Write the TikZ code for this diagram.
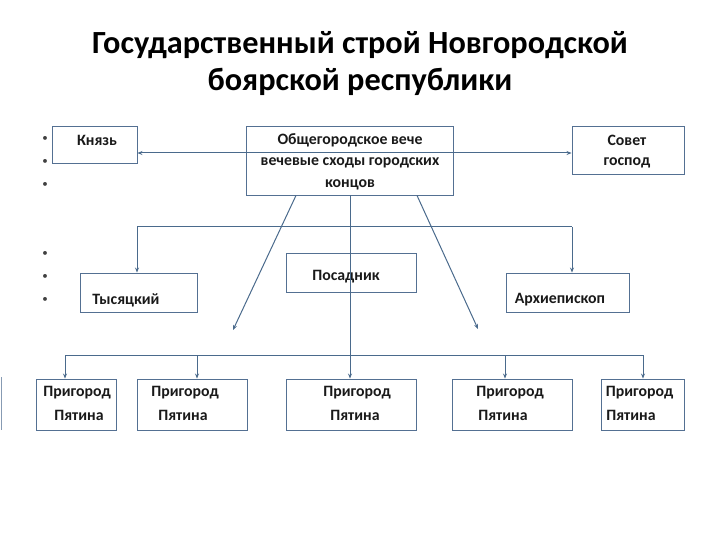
\documentclass[tikz,border=0pt]{standalone}
\usepackage{fontspec}
\setmainfont{Carlito}
\usetikzlibrary{arrows.meta}
\definecolor{ln}{RGB}{74,106,140}
\definecolor{bx}{RGB}{84,112,146}
\tikzset{
  box/.style={draw=bx, line width=0.9pt, rectangle, inner sep=0pt},
  txt/.style={inner sep=0pt, font=\fontsize{15.8}{18}\selectfont\bfseries, text=black!90},
  bul/.style={inner sep=0pt, font=\fontsize{11}{13}\selectfont, text=black!75},
  conn/.style={draw=ln, line width=1pt},
  arr/.style={conn, -{Stealth[length=5pt,width=4pt]}},
  darr/.style={conn, {Stealth[length=5pt,width=4pt]}-{Stealth[length=5pt,width=4pt]}}
}
\begin{document}
\begin{tikzpicture}[x=1pt,y=-1pt]
\useasboundingbox (0,0) rectangle (720,540);
% title
\node[inner sep=0pt, font=\fontsize{32.3}{38}\selectfont\bfseries] (t1) at (360,45) {Государственный строй Новгородской};
\node[inner sep=0pt, font=\fontsize{32.3}{38}\selectfont\bfseries] (t2) at (360,82) {боярской республики};
% bullets
\foreach \yy [count=\i] in {139,162,185,254,277,300}
  \node[bul] (b\i) at (45,\yy) {•};
% boxes
\node[box, minimum width=85pt, minimum height=37pt] (knyaz) at (94.5,144.5) {};
\node[box, minimum width=207pt, minimum height=69pt] (veche) at (349.5,160.5) {};
\node[box, minimum width=112pt, minimum height=48pt] (sovet) at (628,150) {};
\node[box, minimum width=117pt, minimum height=39pt] (tys) at (138.5,292.5) {};
\node[box, minimum width=130pt, minimum height=39pt] (posad) at (351,272.5) {};
\node[box, minimum width=123pt, minimum height=39pt] (arkh) at (567.5,292.5) {};
\node[box, minimum width=80pt, minimum height=51pt] (p1) at (76,404.5) {};
\node[box, minimum width=110pt, minimum height=51pt] (p2) at (192,404.5) {};
\node[box, minimum width=130pt, minimum height=51pt] (p3) at (351,404.5) {};
\node[box, minimum width=120pt, minimum height=51pt] (p4) at (512,404.5) {};
\node[box, minimum width=83pt, minimum height=51pt] (p5) at (642.5,404.5) {};
% texts
\node[txt] (knyazT) at (97,140) {Князь};
\node[txt] (vecheA) at (350,140) {Общегородское вече};
\node[txt] (vecheB) at (350,163) {вечевые сходы городских};
\node[txt] (vecheC) at (350,185) {концов};
\node[txt] (sovetA) at (627,140) {Совет};
\node[txt] (sovetB) at (627,163) {господ};
\node[txt] (tysT) at (126,300) {Тысяцкий};
\node[txt] (posadT) at (346,277) {Посадник};
\node[txt] (arkhT) at (560,300) {Архиепископ};
\node[txt] (p1a) at (77,393) {Пригород};
\node[txt] (p1b) at (79,415) {Пятина};
\node[txt] (p2a) at (185,393) {Пригород};
\node[txt] (p2b) at (183,415) {Пятина};
\node[txt] (p3a) at (357,393) {Пригород};
\node[txt] (p3b) at (355,415) {Пятина};
\node[txt] (p4a) at (510,393) {Пригород};
\node[txt] (p4b) at (503,415) {Пятина};
\node[txt] (p5a) at (639.5,393) {Пригород};
\node[txt] (p5b) at (631,415) {Пятина};
% left cut-off box edge
\coordinate (e1) at (1.5,377);
\coordinate (e2) at (1.5,430);
\draw[draw=bx!70, line width=1pt] (e1) -- (e2);
% connectors
\draw[darr] (knyaz.east |- 0,153) -- (sovet.west |- 0,153);
\coordinate (j1) at (350,227);
\coordinate (j2) at (350,355);
\coordinate (hl) at (137,227);
\coordinate (hr) at (572,227);
\draw[conn] (veche.south -| j1) -- (j2);
\draw[conn] (hl) -- (hr);
\draw[arr] (hl) -- (tys.north -| hl);
\draw[arr] (hr) -- (arkh.north -| hr);
\coordinate (bl) at (65,355);
\coordinate (br) at (643,355);
\coordinate (b2) at (197,355);
\coordinate (b4) at (505,355);
\draw[conn] (bl) -- (br);
\draw[arr] (bl) -- (p1.north -| bl);
\draw[arr] (b2) -- (p2.north -| b2);
\draw[arr] (j2) -- (p3.north -| j2);
\draw[arr] (b4) -- (p4.north -| b4);
\draw[arr] (br) -- (p5.north -| br);
\coordinate (d1) at (233,330);
\coordinate (d2) at (478,329);
\draw[arr] (veche.south -| 296,0) -- (d1);
\draw[arr] (veche.south -| 417,0) -- (d2);
\end{tikzpicture}
\end{document}
